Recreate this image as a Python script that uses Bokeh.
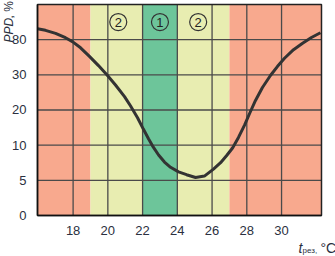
import numpy as np
from bokeh.plotting import figure
from bokeh.models import FixedTicker, Label, Range1d, LinearAxis
from bokeh.core.properties import value
from bokeh.embed import file_html
from bokeh.resources import INLINE

# ---- data ----
temp = [15.95, 16.41, 16.99, 17.56, 17.96, 18.43, 18.94, 19.46, 19.98, 20.44, 20.96,
        21.30, 21.71, 22.05, 22.34, 22.57, 22.92, 23.26, 23.61, 24.07, 24.53, 25.05,
        25.56, 26.08, 26.49, 26.83, 27.18, 27.52, 27.87, 28.16, 28.50, 28.90, 29.36,
        29.77, 30.17, 30.69, 31.21, 31.72, 32.24]
ppd = [86.2, 85.3, 83.6, 81.1, 77.2, 68.4, 56.2, 43.1, 29.8, 27.1, 23.8,
       21.2, 17.8, 14.5, 11.8, 9.9, 8.6, 7.6, 6.85, 6.2, 5.8, 5.4,
       5.6, 6.6, 7.5, 8.5, 9.6, 12.2, 15.7, 19.0, 22.7, 26.4, 29.8,
       42.1, 53.5, 65.7, 74.8, 81.2, 83.9]

y_tick_labels = ["0", "5", "10", "20", "30", "80"]
ppd_levels = [0, 5, 10, 20, 30, 80, 100]   # non-uniform PPD scale
x_ticks = [18, 20, 22, 24, 26, 28, 30]
x_min, x_max = 15.95, 32.3

zone_bounds = [19, 22, 24, 27]
zone_class = ["3", "2", "1", "2", "3"]
zone_label_text = ["2", "1", "2"]
zone_label_t = [20.6, 23.0, 25.2]

zone_colors = {"1": "#6DC59A", "2": "#E8EDB1", "3": "#F8A98E"}

# map PPD values onto the evenly spaced scale positions
pos_levels = np.arange(len(ppd_levels))
ppd_pos = np.interp(ppd, ppd_levels, pos_levels)
y_top = len(y_tick_labels)

FONT = "Liberation Sans"
TXT = "#2b3040"
GRID = "#4a4a4a"

p = figure(width=335, height=256, output_backend="svg", toolbar_location=None,
           x_range=Range1d(13.82, 33.106), y_range=Range1d(-1.166, 6.113),
           frame_width=335, frame_height=256, min_border=0,
           x_axis_location=None, y_axis_location=None)
p.background_fill_color = "white"
p.border_fill_color = "white"
p.outline_line_color = None
p.xgrid.visible = False
p.ygrid.visible = False

# comfort zones
lefts = [x_min] + zone_bounds
rights = zone_bounds + [x_max]
p.quad(left=lefts, right=rights, bottom=0, top=y_top,
       fill_color=[zone_colors[c] for c in zone_class], line_color=None)

# grid lines
p.segment(x0=x_ticks, x1=x_ticks, y0=0, y1=y_top, line_color=GRID, line_width=1.3)
yg = list(range(1, y_top))
p.segment(x0=x_min, x1=x_max, y0=yg, y1=yg, line_color=GRID, line_width=1.3)

# curve
p.line(list(temp), list(ppd_pos), line_color="#333333", line_width=3)

# frame border
p.quad(left=[x_min], right=[x_max], bottom=[0], top=[y_top], fill_color=None,
       line_color="#222222", line_width=1.5)

# circled zone labels
cy = [5.5] * len(zone_label_t)
p.scatter(zone_label_t, cy, marker="circle", size=17, fill_color=None,
          line_color="#333333", line_width=1.2)
p.text(zone_label_t, cy, text=zone_label_text, text_align="center",
       text_baseline="middle", text_font=value(FONT),
       text_font_size="13px", text_color="#222222")

# axes at fixed locations
xaxis = LinearAxis(fixed_location=0, bounds=(x_min, x_max),
                   ticker=FixedTicker(ticks=x_ticks))
yaxis = LinearAxis(fixed_location=x_min, bounds=(0, y_top),
                   ticker=FixedTicker(ticks=list(range(len(y_tick_labels)))))
yaxis.major_label_overrides = {i: t for i, t in enumerate(y_tick_labels)}
for ax in (xaxis, yaxis):
    ax.axis_line_color = "#111111"
    ax.axis_line_width = 1.5
    ax.major_tick_line_color = None
    ax.minor_tick_line_color = None
    ax.major_label_text_font = FONT
    ax.major_label_text_font_size = "13px"
    ax.major_label_text_color = TXT
xaxis.major_label_standoff = 5
yaxis.major_label_standoff = 5
p.add_layout(xaxis, "below")
p.add_layout(yaxis, "left")

# axis titles (screen px from canvas bottom-left)
def lab(x, y, text, size, italic=False, angle=0.0):
    p.add_layout(Label(x=x, y=y, x_units="screen", y_units="screen", text=text,
                       angle=angle, text_align="left",
                       text_baseline="middle" if angle else "alphabetic",
                       text_font=FONT,
                       text_font_style="italic" if italic else "normal",
                       text_font_size=size, text_color=TXT))

lab(8, 214, "PPD", "12px", italic=True, angle=np.pi / 2)
lab(8, 238, ", %", "12px", angle=np.pi / 2)
lab(298, 9, "t", "14px", italic=True)
lab(302, 6, "рез,", "8px")
lab(320, 9, "°C", "14px")

open("out.html", "w").write(file_html(p, INLINE))
